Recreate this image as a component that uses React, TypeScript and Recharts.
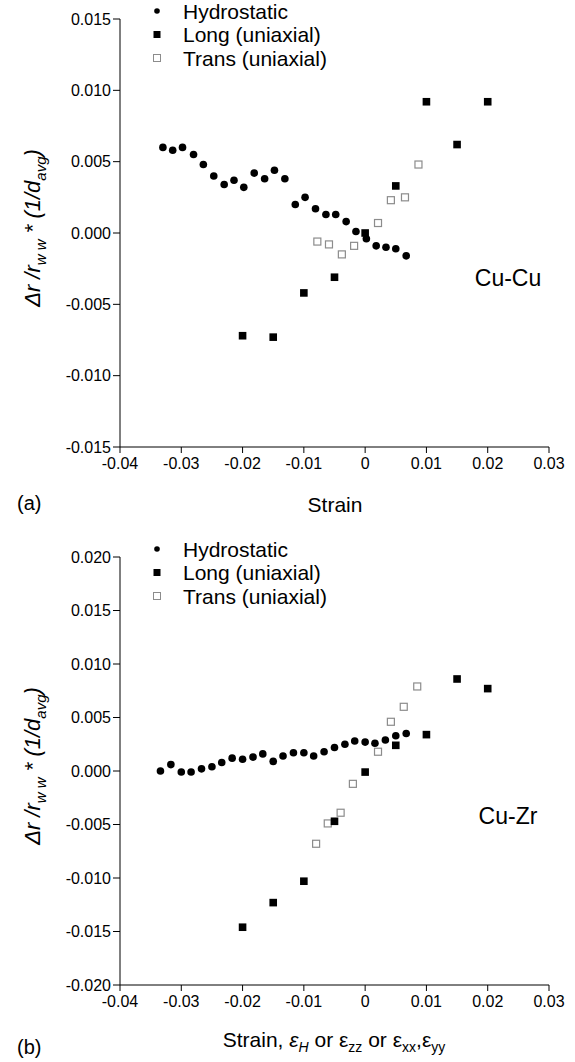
import React from "react";
import { ScatterChart, Scatter, XAxis, YAxis } from "recharts";

// strain values shared by the x axes
const strainTicks = [-0.04, -0.03, -0.02, -0.01, 0, 0.01, 0.02, 0.03];
const cuCuTicks = [-0.015, -0.01, -0.005, 0, 0.005, 0.01, 0.015];
const cuZrTicks = [-0.02, -0.015, -0.01, -0.005, 0, 0.005, 0.01, 0.015, 0.02];

// (a) Cu-Cu
const cuCuHydroX = [
  -0.033, -0.0314, -0.0298, -0.028, -0.0264, -0.0247, -0.023, -0.0214, -0.0198,
  -0.0181, -0.0164, -0.0148, -0.0131, -0.0114, -0.0098, -0.0081, -0.0064,
  -0.0048, -0.0031, -0.0015, 0.0002, 0.0018, 0.0034, 0.005, 0.0067,
];
const cuCuHydroY = [
  0.006, 0.0058, 0.006, 0.0055, 0.0048, 0.004, 0.0034, 0.0037, 0.0032, 0.0042,
  0.0038, 0.0044, 0.0038, 0.002, 0.0025, 0.0017, 0.0013, 0.0013, 0.0008,
  0.0001, -0.0004, -0.0009, -0.001, -0.0011, -0.0016,
];
const cuCuLongX = [-0.02, -0.015, -0.01, -0.005, 0, 0.005, 0.01, 0.015, 0.02];
const cuCuLongY = [-0.0072, -0.0073, -0.0042, -0.0031, 0, 0.0033, 0.0092, 0.0062, 0.0092];
const cuCuTransX = [-0.0078, -0.0059, -0.0038, -0.0018, 0.0021, 0.0042, 0.0065, 0.0087];
const cuCuTransY = [-0.0006, -0.0008, -0.0015, -0.0009, 0.0007, 0.0023, 0.0025, 0.0048];

// (b) Cu-Zr
const cuZrHydroX = [
  -0.0334, -0.0317, -0.03, -0.0284, -0.0267, -0.025, -0.0234, -0.0217, -0.02,
  -0.0183, -0.0167, -0.015, -0.0134, -0.0117, -0.01, -0.0084, -0.0067, -0.005,
  -0.0033, -0.0017, 0, 0.0016, 0.0033, 0.005, 0.0067,
];
const cuZrHydroY = [
  0, 0.0006, -0.0001, -0.0001, 0.0002, 0.0004, 0.0008, 0.0012, 0.0011, 0.0013,
  0.0016, 0.0009, 0.0014, 0.0017, 0.0017, 0.0014, 0.0018, 0.0022, 0.0025,
  0.0028, 0.0027, 0.0026, 0.0029, 0.0033, 0.0035,
];
const cuZrLongX = [-0.02, -0.015, -0.01, -0.005, 0, 0.005, 0.01, 0.015, 0.02];
const cuZrLongY = [-0.0146, -0.0123, -0.0103, -0.0047, -0.0001, 0.0024, 0.0034, 0.0086, 0.0077];
const cuZrTransX = [-0.008, -0.0061, -0.004, -0.002, 0.0021, 0.0042, 0.0063, 0.0085];
const cuZrTransY = [-0.0068, -0.0049, -0.0039, -0.0012, 0.0018, 0.0046, 0.006, 0.0079];

const FONT = "'Liberation Sans', Arial, sans-serif";
const GREY = "#8c8c8c";

const pts = (xs: number[], ys: number[]) => xs.map((x, i) => ({ x, y: ys[i] }));

const Dot = (p: any) => <circle cx={p.cx} cy={p.cy} r={3.8} fill="#000" />;
const FilledSquare = (p: any) => (
  <rect x={p.cx - 3.8} y={p.cy - 3.8} width={7.6} height={7.6} fill="#000" />
);
const OpenSquare = (p: any) => (
  <rect
    x={p.cx - 3.5}
    y={p.cy - 3.5}
    width={7}
    height={7}
    fill="#fff"
    stroke={GREY}
    strokeWidth={1.2}
  />
);

const fmtStrain = (v: number) => (v === 0 ? "0" : v.toFixed(2));
const fmtRatio = (v: number) => v.toFixed(3);

const CHART_W = 575;
const CHART_H = 524;

interface PanelProps {
  top: number;
  hydro: { x: number; y: number }[];
  long: { x: number; y: number }[];
  trans: { x: number; y: number }[];
  yTicks: number[];
  tag: string;
  tagY: number;
  name: string;
  xTitle: React.ReactNode;
}

function LegendBox() {
  const rows = [
    { label: "Hydrostatic", mark: <circle cx={8} cy={0} r={2.8} fill="#000" /> },
    { label: "Long (uniaxial)", mark: <rect x={4.5} y={-3.5} width={7} height={7} fill="#000" /> },
    {
      label: "Trans (uniaxial)",
      mark: <rect x={4.5} y={-3.5} width={7} height={7} fill="#fff" stroke={GREY} strokeWidth={1} />,
    },
  ];
  return (
    <g transform="translate(149, 11)">
      {rows.map((r, i) => (
        <g key={r.label} transform={`translate(0, ${i * 23.5})`}>
          {r.mark}
          <text x={34} y={7.5} fontSize={21} fontFamily={FONT} fill="#000">
            {r.label}
          </text>
        </g>
      ))}
    </g>
  );
}

function Panel({ top, hydro, long, trans, yTicks, tag, tagY, name, xTitle }: PanelProps) {
  const yMax = yTicks[yTicks.length - 1];
  return (
    <div style={{ position: "absolute", left: 0, top, width: CHART_W, height: CHART_H }}>
      <ScatterChart
        width={CHART_W}
        height={CHART_H}
        margin={{ top: 19, right: 26, left: 0, bottom: 17 }}
      >
        <XAxis
          type="number"
          dataKey="x"
          domain={[-0.04, 0.03]}
          ticks={strainTicks}
          interval={0}
          tickFormatter={fmtStrain}
          allowDataOverflow
          height={60}
          stroke="#000"
          tickSize={6}
          tickMargin={5}
          tick={{ fill: "#000", fontSize: 16, fontFamily: FONT }}
        />
        <YAxis
          type="number"
          dataKey="y"
          domain={[-yMax, yMax]}
          ticks={yTicks}
          interval={0}
          tickFormatter={fmtRatio}
          allowDataOverflow
          width={120}
          stroke="#000"
          tickSize={7}
          tickMargin={2}
          tick={{ fill: "#000", fontSize: 16, fontFamily: FONT }}
        />
        <Scatter data={trans} shape={OpenSquare} isAnimationActive={false} />
        <Scatter data={hydro} shape={Dot} isAnimationActive={false} />
        <Scatter data={long} shape={FilledSquare} isAnimationActive={false} />
      </ScatterChart>
      <svg
        width={CHART_W}
        height={CHART_H}
        style={{ position: "absolute", left: 0, top: 0, pointerEvents: "none" }}
      >
        <LegendBox />
        <text
          transform="rotate(-90 40 228)"
          x={40}
          y={228}
          textAnchor="middle"
          fontSize={22}
          fontStyle="italic"
          fontFamily={FONT}
          fill="#000"
        >
          Δr /r
          <tspan dy={6} fontSize={15}>w w</tspan>
          <tspan dy={-6}> * (1/d</tspan>
          <tspan dy={6} fontSize={15}>avg</tspan>
          <tspan dy={-6}>)</tspan>
        </text>
        <text x={508} y={286} textAnchor="middle" fontSize={23} fontFamily={FONT} fill="#000">
          {name}
        </text>
        {xTitle}
        <text x={17} y={tagY} fontSize={20} fontFamily={FONT} fill="#000">
          {tag}
        </text>
      </svg>
    </div>
  );
}

export default function App() {
  return (
    <div
      style={{
        position: "absolute",
        left: 0,
        top: 0,
        width: 575,
        height: 1062,
        overflow: "hidden",
        background: "#fff",
      }}
    >
      <Panel
        top={0}
        hydro={pts(cuCuHydroX, cuCuHydroY)}
        long={pts(cuCuLongX, cuCuLongY)}
        trans={pts(cuCuTransX, cuCuTransY)}
        yTicks={cuCuTicks}
        tag="(a)"
        tagY={510}
        name="Cu-Cu"
        xTitle={
          <text x={335} y={512} textAnchor="middle" fontSize={21} fontFamily={FONT} fill="#000">
            Strain
          </text>
        }
      />
      <Panel
        top={538}
        hydro={pts(cuZrHydroX, cuZrHydroY)}
        long={pts(cuZrLongX, cuZrLongY)}
        trans={pts(cuZrTransX, cuZrTransY)}
        yTicks={cuZrTicks}
        tag="(b)"
        tagY={516}
        name="Cu-Zr"
        xTitle={
          <text x={334} y={509} textAnchor="middle" fontSize={21} fontFamily={FONT} fill="#000">
            Strain,{" "}
            <tspan fontStyle="italic">ε</tspan>
            <tspan dy={5} fontSize={14} fontStyle="italic">H</tspan>
            <tspan dy={-5}> or ε</tspan>
            <tspan dy={5} fontSize={14}>zz</tspan>
            <tspan dy={-5}> or ε</tspan>
            <tspan dy={5} fontSize={14}>xx</tspan>
            <tspan dy={-5}>,ε</tspan>
            <tspan dy={5} fontSize={14}>yy</tspan>
          </text>
        }
      />
    </div>
  );
}
